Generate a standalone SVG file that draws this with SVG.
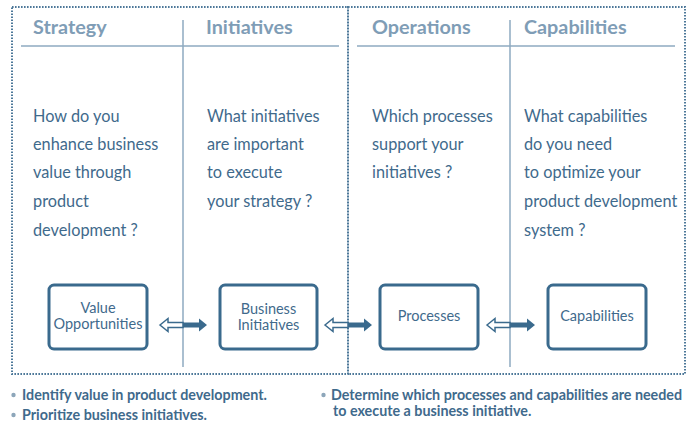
<svg xmlns="http://www.w3.org/2000/svg" width="696" height="423" viewBox="0 0 696 423">
<style>
.frame{fill:none;stroke:#4d7899;stroke-width:2;stroke-dasharray:1.6 1.4}
.rule{stroke:#8eaac0;stroke-width:1.5;fill:none}
.head{font-family:"Lato","Liberation Sans",sans-serif;font-weight:bold;font-size:19.8px;fill:#7f9db6}
.body{font-family:"Lato","Liberation Sans",sans-serif;font-size:16.3px;fill:#3f6a8c}
.node rect{fill:#fff;stroke:#3a6a8d;stroke-width:3}
.node text{font-family:"Lato","Liberation Sans",sans-serif;font-size:14.5px;fill:#3f6a8c;text-anchor:middle}
.hollow{fill:#fff;stroke:#3a6a8d;stroke-width:1.5;stroke-linejoin:miter}
.solid{fill:#3a6a8d}
.bul{font-family:"Lato","Liberation Sans",sans-serif;font-weight:bold;font-size:14.3px;fill:#3f6a8c}
.dot{fill:#8da6ba}
</style>
<g id="frames">
<rect class="frame" x="12" y="7" width="336" height="367"/>
<rect class="frame" x="348" y="7" width="337" height="367"/>
<line class="rule" x1="21" y1="46" x2="339" y2="46"/>
<line class="rule" x1="357" y1="46" x2="675" y2="46"/>
<line class="rule" x1="183" y1="20" x2="183" y2="367"/>
<line class="rule" x1="510" y1="20" x2="510" y2="367"/>
</g>
<g id="headers">
<text class="head" x="33" y="34">Strategy</text>
<text class="head" x="206" y="34">Initiatives</text>
<text class="head" x="372" y="34">Operations</text>
<text class="head" x="524" y="34">Capabilities</text>
</g>
<g id="questions">
<text class="body" x="33" y="122">How do you</text>
<text class="body" x="33" y="150">enhance business</text>
<text class="body" x="33" y="178">value through</text>
<text class="body" x="33" y="207">product</text>
<text class="body" x="33" y="236">development ?</text>
<text class="body" x="207" y="122">What initiatives</text>
<text class="body" x="207" y="150">are important</text>
<text class="body" x="207" y="178">to execute</text>
<text class="body" x="207" y="207">your strategy ?</text>
<text class="body" x="372" y="122">Which processes</text>
<text class="body" x="372" y="150">support your</text>
<text class="body" x="372" y="178">initiatives ?</text>
<text class="body" x="524" y="122">What capabilities</text>
<text class="body" x="524" y="150">do you need</text>
<text class="body" x="524" y="178">to optimize your</text>
<text class="body" x="524" y="207">product development</text>
<text class="body" x="524" y="236">system ?</text>
</g>
<g id="node-value" class="node">
<rect x="49" y="285" width="98" height="64" rx="5"/>
<text x="98" y="313">Value</text>
<text x="98" y="329">Opportunities</text>
</g>
<g id="node-business" class="node">
<rect x="220" y="285" width="97" height="64" rx="5"/>
<text x="268.5" y="314">Business</text>
<text x="268.5" y="330">Initiatives</text>
</g>
<g id="node-processes" class="node">
<rect x="380" y="285" width="98" height="64" rx="5"/>
<text x="429" y="321">Processes</text>
</g>
<g id="node-capabilities" class="node">
<rect x="548" y="285" width="98" height="64" rx="5"/>
<text x="597" y="321">Capabilities</text>
</g>
<g id="connectors">
<polygon class="hollow" points="160,325 168,318.5 168,322.5 183,322.5 183,327.5 168,327.5 168,331.5"/>
<polygon class="solid" points="183,322.5 199,322.5 199,318.5 207,325 199,331.5 199,327.5 183,327.5"/>
<polygon class="hollow" points="325,325 333,318.5 333,322.5 348,322.5 348,327.5 333,327.5 333,331.5"/>
<polygon class="solid" points="348,322.5 364,322.5 364,318.5 372,325 364,331.5 364,327.5 348,327.5"/>
<polygon class="hollow" points="487,325 495,318.5 495,322.5 510,322.5 510,327.5 495,327.5 495,331.5"/>
<polygon class="solid" points="510,322.5 527,322.5 527,318.5 535,325 527,331.5 527,327.5 510,327.5"/>
</g>
<g id="bullets">
<circle class="dot" cx="13.5" cy="395" r="2.2"/>
<circle class="dot" cx="13.5" cy="415" r="2.2"/>
<circle class="dot" cx="323.5" cy="395" r="2.2"/>
<text class="bul" x="22" y="400">Identify value in product development.</text>
<text class="bul" x="22" y="420">Prioritize business initiatives.</text>
<text class="bul" x="331" y="399.5">Determine which processes and capabilities are needed</text>
<text class="bul" x="333" y="416">to execute a business initiative.</text>
</g>
</svg>
